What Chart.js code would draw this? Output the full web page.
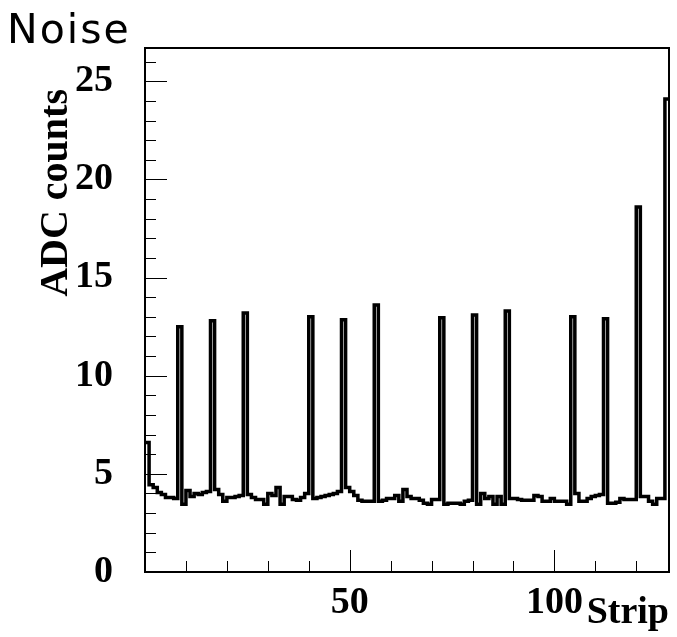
<!DOCTYPE html>
<html>
<head>
<meta charset="utf-8">
<script src="https://cdn.jsdelivr.net/npm/chart.js@4/dist/chart.umd.min.js"></script>
<style>
  html, body { margin: 0; padding: 0; background: #fff; }
  #wrap { width: 677px; height: 637px; }
</style>
</head>
<body>
<div id="wrap"><canvas id="noiseChart" width="677" height="637"></canvas></div>
<script>
// noise per strip (ADC counts), one value per bin
const noise = [
  6.6, 4.45, 4.3, 4.05, 3.95, 3.8, 3.8, 3.75,
  12.5, 3.45, 4.15, 3.85, 4.0, 3.95, 4.05, 4.1,
  12.8, 4.2, 3.95, 3.6, 3.8, 3.8, 3.85, 3.9,
  13.2, 3.95, 3.8, 3.7, 3.7, 3.45, 4.0, 3.9,
  4.3, 3.45, 3.85, 3.85, 3.7, 3.65, 3.8, 4.0,
  13.0, 3.75, 3.8, 3.85, 3.9, 3.95, 4.0, 4.1,
  12.85, 4.3, 4.1, 3.9, 3.65, 3.6, 3.6, 3.6,
  13.6, 3.6, 3.65, 3.75, 3.75, 3.9, 3.6, 4.2,
  3.85, 3.75, 3.75, 3.65, 3.5, 3.45, 3.7, 3.7,
  12.95, 3.45, 3.5, 3.5, 3.5, 3.45, 3.6, 3.65,
  13.1, 3.45, 4.0, 3.75, 3.85, 3.45, 3.85, 3.45,
  13.3, 3.75, 3.75, 3.7, 3.65, 3.65, 3.65, 3.9,
  3.85, 3.6, 3.6, 3.75, 3.6, 3.6, 3.6, 3.45,
  13.0, 4.0, 3.6, 3.6, 3.75, 3.85, 3.9, 3.95,
  12.9, 3.5, 3.5, 3.55, 3.75, 3.7, 3.7, 3.7,
  18.6, 3.85, 3.85, 3.6, 3.45, 3.75, 3.75, 24.1
];
// lower edge of each strip bin
const strips = noise.map((_, i) => i);
const xRange = [0, 128];
const yRange = [0, 26.7];
const xTickLabels = [50, 100];
const yTickLabels = [0, 5, 10, 15, 20, 25];

const serifBold = 'bold 38px "Liberation Serif", "Times New Roman", serif';

// histogram as steps: each bin's value from its lower edge, plus closing edge
const points = strips.map((s, i) => ({ x: s, y: noise[i] }));
points.push({ x: xRange[1], y: noise[noise.length - 1] });

// frame, inner ticks and titles, ROOT style
const rootFrame = {
    id: 'rootFrame',
    afterDatasetsDraw(chart) {
        const { ctx, chartArea: a, scales } = chart;
        const xs = scales.x, ys = scales.y;
        ctx.save();
        ctx.strokeStyle = '#000';
        ctx.lineWidth = 1;
        ctx.beginPath();
        for (let v = 1; v < yRange[1]; v++) {
            const py = Math.round(ys.getPixelForValue(v)) + 0.5;
            const len = v % 5 === 0 ? 22 : 11;
            ctx.moveTo(a.left, py);
            ctx.lineTo(a.left + len, py);
        }
        for (let v = 10; v < xRange[1]; v += 10) {
            const px = Math.round(xs.getPixelForValue(v)) + 0.5;
            const len = v % 50 === 0 ? 22 : 11;
            ctx.moveTo(px, a.bottom);
            ctx.lineTo(px, a.bottom - len);
        }
        ctx.stroke();

        ctx.lineWidth = 2;
        ctx.strokeRect(a.left, a.top, a.right - a.left, a.bottom - a.top);

        ctx.fillStyle = '#000';
        ctx.font = '41px "DejaVu Sans", sans-serif';
        ctx.letterSpacing = '2px';
        ctx.textAlign = 'left';
        ctx.textBaseline = 'alphabetic';
        ctx.fillText('Noise', 7, 43);
        ctx.letterSpacing = '0px';

        ctx.font = serifBold;
        ctx.textAlign = 'right';
        ctx.fillText('Strip', a.right, 623);

        ctx.font = 'bold 40px "Liberation Serif", "Times New Roman", serif';
        ctx.translate(67, 89);
        ctx.rotate(-Math.PI / 2);
        ctx.textAlign = 'right';
        ctx.fillText('ADC counts', 0, 0);
        ctx.restore();
    }
};

const ctx = document.getElementById('noiseChart').getContext('2d');
new Chart(ctx, {
    type: 'line',
    data: {
        datasets: [{
            label: 'Noise',
            data: points,
            stepped: 'before',
            borderColor: '#000',
            borderWidth: 3.5,
            pointRadius: 0,
            fill: false,
            tension: 0
        }]
    },
    options: {
        responsive: false,
        animation: false,
        devicePixelRatio: 1,
        layout: { padding: { left: 0, right: 8, top: 48, bottom: 0 } },
        plugins: {
            legend: { display: false },
            title: { display: false },
            tooltip: { enabled: false }
        },
        scales: {
            x: {
                type: 'linear',
                min: xRange[0],
                max: xRange[1],
                grid: { display: false, drawTicks: false },
                border: { display: false },
                afterBuildTicks: s => { s.ticks = xTickLabels.map(v => ({ value: v })); },
                afterFit: s => { s.height = 65; s.paddingLeft = 0; s.paddingRight = 0; },
                ticks: {
                    color: '#000',
                    font: { family: '"Liberation Serif", "Times New Roman", serif', size: 38, weight: 'bold' },
                    padding: 8,
                    maxRotation: 0
                }
            },
            y: {
                type: 'linear',
                min: yRange[0],
                max: yRange[1],
                grid: { display: false, drawTicks: false },
                border: { display: false },
                afterBuildTicks: s => { s.ticks = yTickLabels.map(v => ({ value: v })); },
                afterFit: s => { s.width = 145; s.paddingTop = 0; s.paddingBottom = 0; },
                ticks: {
                    color: '#000',
                    font: { family: '"Liberation Serif", "Times New Roman", serif', size: 38, weight: 'bold' },
                    padding: 32
                }
            }
        }
    },
    plugins: [rootFrame]
});
</script>
</body>
</html>
